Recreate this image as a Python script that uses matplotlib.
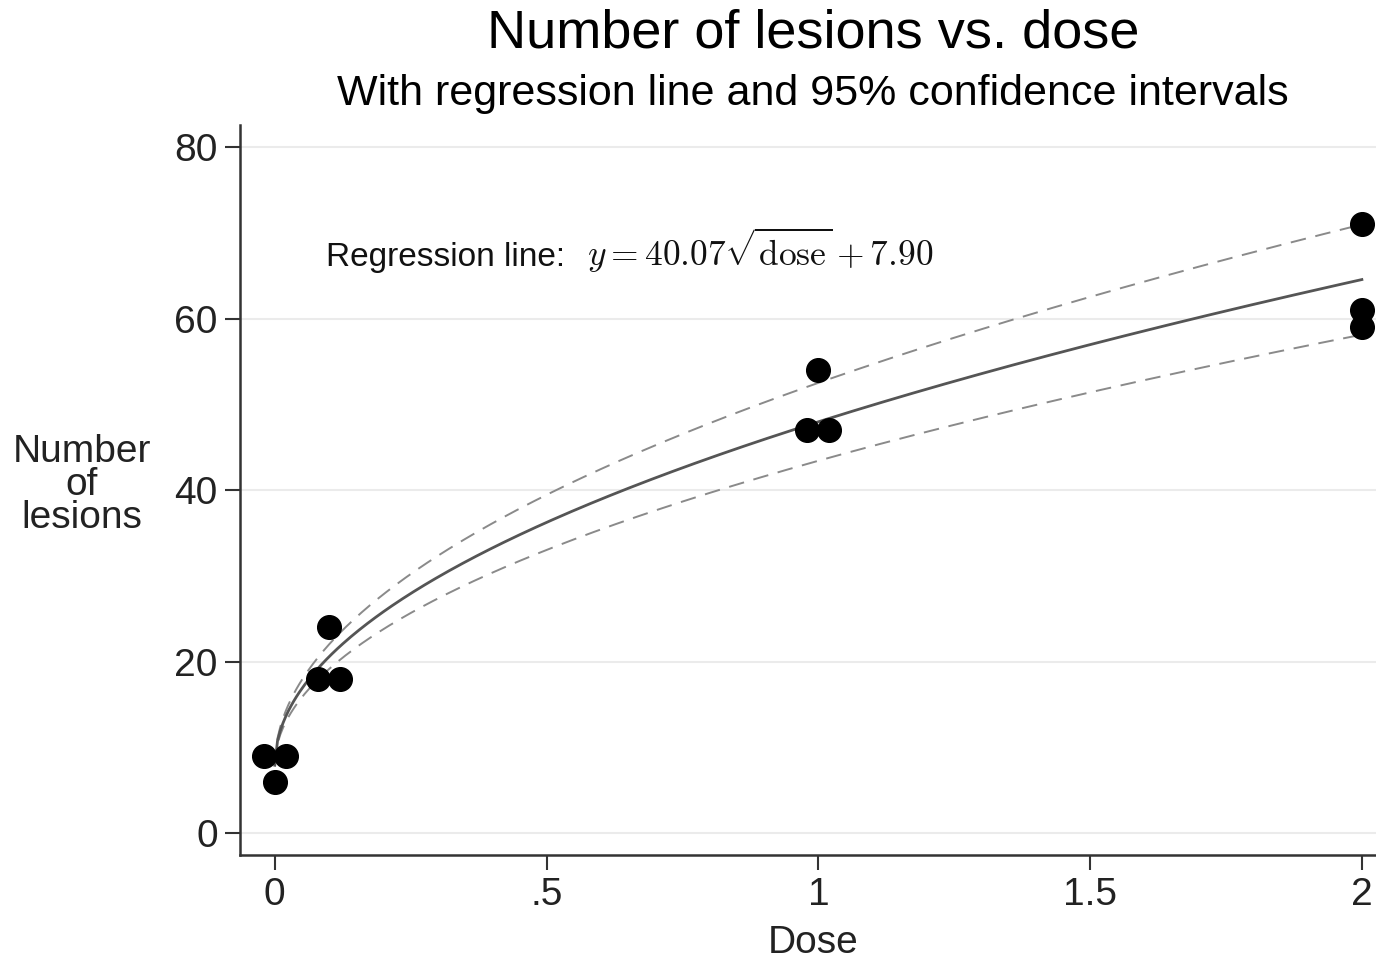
import numpy as np
import matplotlib
matplotlib.use("Agg")
import matplotlib.pyplot as plt

plt.rcParams['font.family'] = ['Liberation Sans', 'DejaVu Sans']
plt.rcParams['mathtext.fontset'] = 'cm'

# data (x positions include the small jitter)
dose_plot = [-0.02, 0.02, 0.0, 0.08, 0.10, 0.12, 0.98, 1.00, 1.02, 2.0, 2.0, 2.0]
dose = [0, 0, 0, 0.1, 0.1, 0.1, 1, 1, 1, 2, 2, 2]
lesions = [9, 9, 6, 18, 24, 18, 47, 54, 47, 71, 61, 59]

# regression y = b*sqrt(dose) + a, as printed on the chart
slope = 40.07
intercept = 7.90
t_crit = 2.228  # t(0.975, 10 df)

xticks = [0, 0.5, 1, 1.5, 2]
xticklabels = ['0', '.5', '1', '1.5', '2']
yticks = [0, 20, 40, 60, 80]

# 95% CI for the slope, from the residuals
sx = np.sqrt(np.array(dose))
yy = np.array(lesions)
resid = yy - (slope*sx + intercept)
s = np.sqrt(np.sum(resid**2) / (len(yy) - 2))
se_b = s / np.sqrt(np.sum((sx - sx.mean())**2))
half = t_crit * se_b

d = np.linspace(0, 2, 400)
fit = slope*np.sqrt(d) + intercept
upper = (slope + half)*np.sqrt(d) + intercept
lower = (slope - half)*np.sqrt(d) + intercept

fig = plt.figure(figsize=(13.76, 9.6), dpi=100)
ax = fig.add_axes([240/1376, 1 - 855/960, 1 - 240/1376, (855 - 125)/960])

ax.plot(d, upper, color='#8a8a8a', lw=1.4, ls=(0, (8, 5)))
ax.plot(d, lower, color='#8a8a8a', lw=1.4, ls=(0, (8, 5)))
ax.plot(d, fit, color='#555555', lw=2.0)
ax.scatter(dose_plot, lesions, s=290, color='black', zorder=5)

ax.set_xlim(-0.064, 2.026)
ax.set_ylim(-2.57, 82.6)
ax.set_xticks(xticks)
ax.set_xticklabels(xticklabels)
ax.set_yticks(yticks)
ax.grid(axis='y', color='#ebebeb', lw=1.5)
ax.set_axisbelow(True)
for side in ['top', 'right']:
    ax.spines[side].set_visible(False)
for side in ['left', 'bottom']:
    ax.spines[side].set_color('#333333')
    ax.spines[side].set_linewidth(1.8)
ax.tick_params(length=11, width=1.5, color='#333333', labelsize=28, pad=5,
               labelcolor='#222222')

ax.text(0.094, 66.2, 'Regression line:', fontsize=24, va='baseline', ha='left',
        color='#111111')
ax.text(0.574, 66.2, r'$y = 40.07\sqrt{\mathrm{dose}} + 7.90$', fontsize=25.5,
        va='baseline', ha='left', color='#111111')

fig.text(813/1376, 1 - 33/960, 'Number of lesions vs. dose', fontsize=39,
         ha='center', va='center')
fig.text(813/1376, 1 - 94/960, 'With regression line and 95% confidence intervals',
         fontsize=31, ha='center', va='center')
fig.text(82/1376, 1 - 485/960, 'Number\nof\nlesions', fontsize=28,
         ha='center', va='center', linespacing=0.9, color='#222222')
fig.text(813/1376, 1 - 943/960, 'Dose', fontsize=28, ha='center', va='center',
         color='#222222')

fig.savefig('out.png', dpi=100)
